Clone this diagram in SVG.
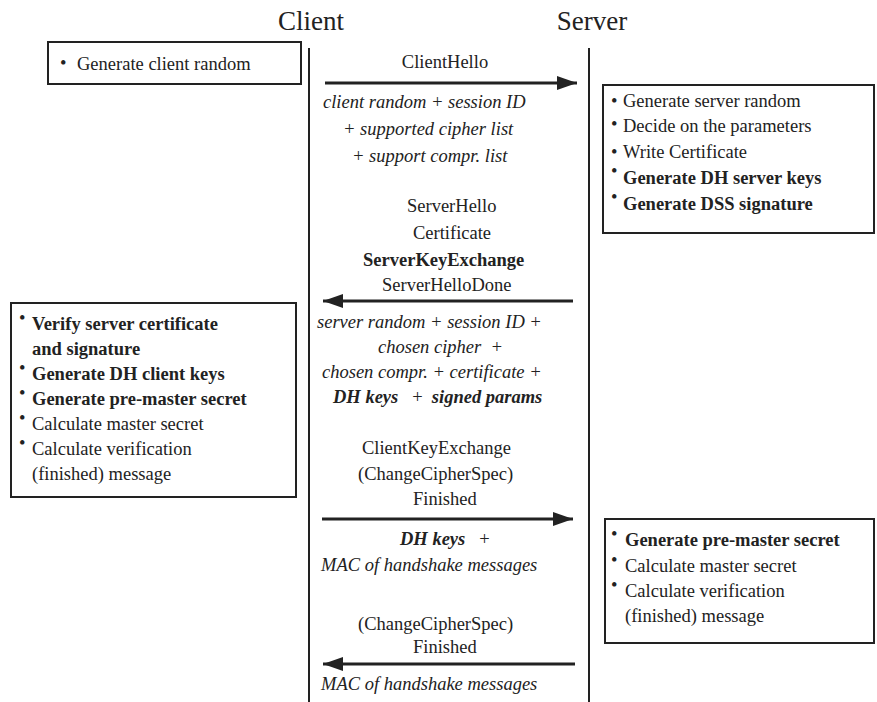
<svg xmlns="http://www.w3.org/2000/svg" width="877" height="702" viewBox="0 0 877 702">
<defs>
<style>
text{font-family:"Liberation Serif","Times New Roman",serif;font-size:18.5px;fill:#222}
.title{font-size:27px}
.it{font-style:italic}
.b{font-weight:bold}
.bi{font-weight:bold;font-style:italic}
.mid{text-anchor:middle}
.box{fill:#fff;stroke:#222;stroke-width:2}
.life{stroke:#222;stroke-width:2;fill:none}
.msg{stroke:#222;stroke-width:3;fill:none}
.pre{white-space:pre}
</style>
<marker id="ah" markerUnits="userSpaceOnUse" markerWidth="22" markerHeight="14" refX="20" refY="7" orient="auto">
<path d="M0,0 L20,7 L0,14 Z" fill="#222"/>
</marker>
</defs>
<rect width="877" height="702" fill="#fff"/>

<g id="titles">
<text class="title mid" x="311" y="30">Client</text>
<text class="title mid" x="592" y="30">Server</text>
</g>

<g id="lifelines">
<line class="life" x1="309" y1="48" x2="309" y2="702"/>
<line class="life" x1="589" y1="48" x2="589" y2="702"/>
</g>

<g id="connectors">
<line class="msg" x1="325" y1="83" x2="577" y2="83" marker-end="url(#ah)"/>
<line class="msg" x1="573" y1="301" x2="323" y2="301" marker-end="url(#ah)"/>
<line class="msg" x1="322" y1="519" x2="573" y2="519" marker-end="url(#ah)"/>
<line class="msg" x1="575" y1="664" x2="323" y2="664" marker-end="url(#ah)"/>
</g>

<g id="msg-clienthello">
<text class="mid" x="445" y="68">ClientHello</text>
<text class="it" x="323" y="108">client random + session ID</text>
<text class="it" x="343" y="135">+ supported cipher list</text>
<text class="it" x="352" y="162">+ support compr. list</text>
</g>

<g id="msg-serverhello">
<text x="407" y="212">ServerHello</text>
<text x="413" y="239">Certificate</text>
<text class="b" x="363" y="266">ServerKeyExchange</text>
<text x="382" y="291">ServerHelloDone</text>
<text class="it" x="317" y="328">server random + session ID +</text>
<text class="it pre" x="378" y="353">chosen cipher  +</text>
<text class="it" x="322" y="378">chosen compr. + certificate +</text>
<text class="pre" x="333" y="403"><tspan class="bi">DH keys</tspan>   +  <tspan class="bi">signed params</tspan></text>
</g>

<g id="msg-clientkeyexchange">
<text x="362" y="454">ClientKeyExchange</text>
<text x="358" y="480">(ChangeCipherSpec)</text>
<text x="413" y="505">Finished</text>
<text class="pre" x="400" y="545"><tspan class="bi">DH keys</tspan>   +</text>
<text class="it" x="321" y="571">MAC of handshake messages</text>
</g>

<g id="msg-finished">
<text x="358" y="630">(ChangeCipherSpec)</text>
<text x="413" y="653">Finished</text>
<text class="it" x="321" y="690">MAC of handshake messages</text>
</g>

<g id="client-box-1">
<rect class="box" x="48" y="42" width="253" height="42"/>
<text x="60" y="69">•</text>
<text x="77" y="70">Generate client random</text>
</g>

<g id="server-box-1">
<rect class="box" x="603" y="85" width="271" height="148"/>
<text x="611" y="107">•</text>
<text x="623" y="107">Generate server random</text>
<text x="611" y="130">•</text>
<text x="623" y="132">Decide on the parameters</text>
<text x="611" y="158">•</text>
<text x="623" y="158">Write Certificate</text>
<text x="611" y="177">•</text>
<text class="b" x="623" y="184">Generate DH server keys</text>
<text x="611" y="203">•</text>
<text class="b" x="623" y="210">Generate DSS signature</text>
</g>

<g id="client-box-2">
<rect class="box" x="11" y="303" width="285" height="194"/>
<text x="19" y="324">•</text>
<text class="b" x="32" y="330">Verify server certificate</text>
<text class="b" x="32" y="355">and signature</text>
<text x="19" y="374">•</text>
<text class="b" x="32" y="380">Generate DH client keys</text>
<text x="19" y="399">•</text>
<text class="b" x="32" y="405">Generate pre-master secret</text>
<text x="19" y="424">•</text>
<text x="32" y="430">Calculate master secret</text>
<text x="19" y="449">•</text>
<text x="32" y="455">Calculate verification</text>
<text x="32" y="480">(finished) message</text>
</g>

<g id="server-box-2">
<rect class="box" x="605" y="519" width="269" height="124"/>
<text x="611" y="540">•</text>
<text class="b" x="625" y="546">Generate pre-master secret</text>
<text x="611" y="566">•</text>
<text x="625" y="572">Calculate master secret</text>
<text x="611" y="591">•</text>
<text x="625" y="597">Calculate verification</text>
<text x="625" y="622">(finished) message</text>
</g>
</svg>
